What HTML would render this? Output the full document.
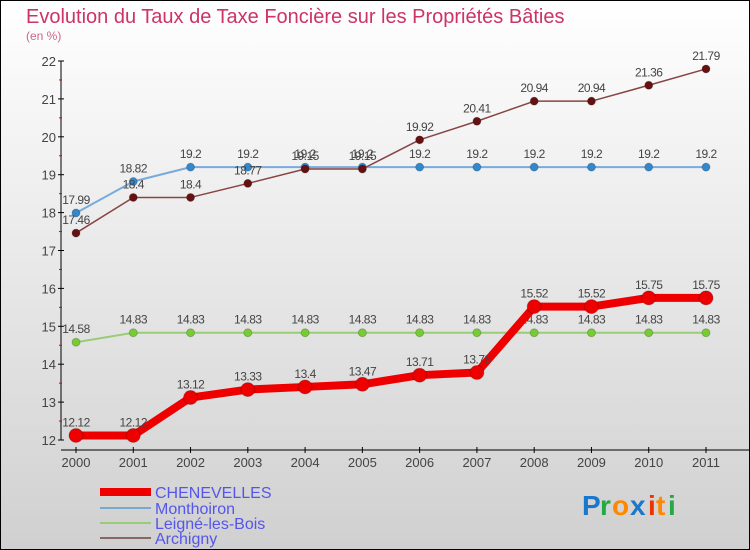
<!DOCTYPE html>
<html><head><meta charset="utf-8"><style>
body{margin:0}
#c{width:750px;height:550px;position:relative;overflow:hidden}
text{font-family:"Liberation Sans",sans-serif}
</style></head><body>
<div id="c">
<svg id="s" width="750" height="550" xmlns="http://www.w3.org/2000/svg">
<defs><linearGradient id="bg" x1="0" y1="0" x2="0" y2="1"><stop offset="0" stop-color="#ffffff"/><stop offset="1" stop-color="#d0d0d0"/></linearGradient></defs>
<rect x="0.5" y="0.5" width="749" height="549" fill="url(#bg)" stroke="#000"/>
<text x="26" y="23" font-size="20" fill="#cc3366">Evolution du Taux de Taxe Foncière sur les Propriétés Bâties</text>
<text x="26" y="40" font-size="12" fill="#cc6688">(en %)</text>
<g id="axes"></g><g id="series"></g>
<g>
<line x1="100" y1="492" x2="151" y2="492" stroke="#ee0000" stroke-width="8"/>
<text x="155" y="498" font-size="16" fill="#5555ee">CHENEVELLES</text>
<line x1="100" y1="508" x2="151" y2="508" stroke="#77aacc" stroke-width="2"/>
<text x="155" y="514" font-size="16" fill="#5555ee">Monthoiron</text>
<line x1="100" y1="523" x2="151" y2="523" stroke="#99cc77" stroke-width="2"/>
<text x="155" y="529" font-size="16" fill="#5555ee">Leigné-les-Bois</text>
<line x1="100" y1="538" x2="151" y2="538" stroke="#886666" stroke-width="2"/>
<text x="155" y="544" font-size="16" fill="#5555ee">Archigny</text>
</g>
<g font-size="28" font-weight="bold">
<text x="582" y="515" fill="#1a77cc">P</text><text x="600" y="515" fill="#22aa44">r</text><text x="612" y="515" fill="#ff8800">o</text><text x="630" y="515" fill="#1a77cc">x</text><text x="648" y="515" fill="#ee3300">i</text><text x="656" y="515" fill="#ff8800">t</text><text x="668" y="515" fill="#22aa44">i</text>
</g>
</svg></div>
<script>
const years=["2000","2001","2002","2003","2004","2005","2006","2007","2008","2009","2010","2011"];
const chenevelles=[12.12,12.12,13.12,13.33,13.4,13.47,13.71,13.78,15.52,15.52,15.75,15.75];
const monthoiron=[17.99,18.82,19.2,19.2,19.2,19.2,19.2,19.2,19.2,19.2,19.2,19.2];
const leigne=[14.58,14.83,14.83,14.83,14.83,14.83,14.83,14.83,14.83,14.83,14.83,14.83];
const archigny=[17.46,18.4,18.4,18.77,19.15,19.15,19.92,20.41,20.94,20.94,21.36,21.79];
const yTicks=[12,13,14,15,16,17,18,19,20,21,22];
const NS="http://www.w3.org/2000/svg";
function X(i){return 76+i*(630/11);}
function Y(v){return 440-(v-12)*37.9;}
function mk(t,a,p){const e=document.createElementNS(NS,t);for(const k in a)e.setAttribute(k,a[k]);p.appendChild(e);return e;}
const ax=document.getElementById('axes');
const yl=mk('line',{x1:61,y1:Y(22),x2:61,y2:Y(12),stroke:'#000'},ax);


const xl=mk('line',{x1:61,y1:450,x2:750,y2:450,stroke:'#000'},ax);


yTicks.forEach(v=>{
 mk('line',{x1:58,y1:Y(v),x2:64,y2:Y(v),stroke:'#000'},ax);
 if(v<22)mk('line',{x1:59,y1:Y(v+0.5),x2:62,y2:Y(v+0.5),stroke:'#dd0000'},ax);
 const t=mk('text',{x:56,y:Y(v)+5,'font-size':13,fill:'#444','text-anchor':'end'},ax);t.textContent=v;
 
 
});
years.forEach((y,i)=>{
 mk('line',{x1:X(i),y1:447,x2:X(i),y2:453,stroke:'#000'},ax);
 const t=mk('text',{x:X(i),y:467,'font-size':13,fill:'#444','text-anchor':'middle'},ax);t.textContent=y;
 
 
});
const sg=document.getElementById('series');
function draw(name,vals,color,w,r,dot,labCol){
 const g=mk('g',{},sg);
 
 
 mk('polyline',{points:vals.map((v,i)=>X(i)+','+Y(v)).join(' '),fill:'none',stroke:color,'stroke-width':w,'stroke-linejoin':'round'},g);
 vals.forEach((v,i)=>{
  const c=mk('circle',{cx:X(i),cy:Y(v),r:r,fill:dot,stroke:'rgba(0,0,0,0.2)'},g);
  
  
  const t=mk('text',{x:X(i),y:Y(v)-9,'font-size':12,fill:'#444','text-anchor':'middle','letter-spacing':'-0.5'},g);t.textContent=v;
  
  
 });
}
draw('leigne',leigne,'#99cc77',2,4,'#77cc33');
draw('monthoiron',monthoiron,'#77aadd',2,4,'#3388cc');
draw('archigny',archigny,'#884444',1.5,4,'#661111');
draw('chenevelles',chenevelles,'#ee0000',8,7,'#ee0000');
</script>
</body></html>
